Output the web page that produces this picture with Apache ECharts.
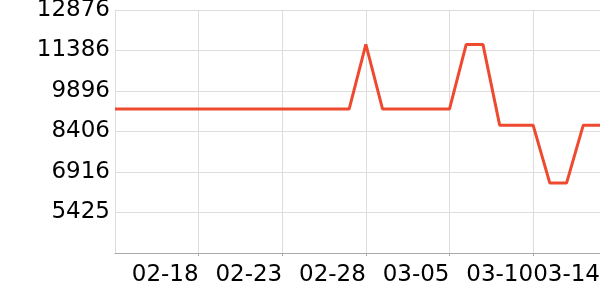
<!DOCTYPE html>
<html>
<head>
<meta charset="utf-8">
<script src="https://cdn.jsdelivr.net/npm/echarts@6/dist/echarts.min.js"></script>
<style>html,body{margin:0;padding:0;background:#fff;overflow:hidden}#c{width:600px;height:300px}</style>
</head>
<body>
<div id="c"></div>
<script>
const categories = ['02-13','02-14','02-15','02-16','02-17','02-18','02-19','02-20','02-21','02-22',
  '02-23','02-24','02-25','02-26','02-27','02-28','03-01','03-02','03-03','03-04',
  '03-05','03-06','03-07','03-08','03-09','03-10','03-11','03-12','03-13','03-14'];
const values = [9229,9229,9229,9229,9229,9229,9229,9229,9229,9229,
  9229,9229,9229,9229,9229,11610,9229,9229,9229,9229,
  9229,11610,11610,8640,8640,8640,6506,6506,8640,8640];
const yTickLabels = ['5425','6916','8406','9896','11386','12876'];
const xLabelIdx = [5,10,15,20,25,29];
const xGridIdx = [5,10,15,20,25];

const yMin = 3935, yMax = 12876;
const yInterval = (yMax - yMin) / 6;

const chart = echarts.init(document.getElementById('c'), null, {renderer:'canvas'});
chart.setOption({
  animation: false,
  grid: {left: 115, right: 0, top: 10, bottom: 47, containLabel: false, outerBoundsMode: 'none'},
  xAxis: {
    type: 'category',
    data: categories,
    boundaryGap: false,
    axisLine: {lineStyle: {color: '#aaaaaa', width: 1}},
    axisTick: {show: true, length: 3, interval: (i) => xGridIdx.includes(i), lineStyle: {color: '#aaaaaa'}},
    axisLabel: {
      interval: (i) => xLabelIdx.includes(i),
      align: 'right',
      fontSize: 23,
      fontFamily: 'DejaVu Sans',
      color: '#000',
      margin: 11
    },
    splitLine: {show: true, interval: (i) => xGridIdx.includes(i), lineStyle: {color: '#dddddd', width: 1}}
  },
  yAxis: {
    type: 'value',
    min: yMin,
    max: yMax,
    interval: yInterval,
    axisLine: {show: true, lineStyle: {color: '#dddddd'}},
    axisTick: {show: false},
    axisLabel: {
      fontSize: 23,
      fontFamily: 'DejaVu Sans',
      color: '#000',
      margin: 5,
      formatter: function (v) {
        if (Math.abs(v - yMin) < 1) return '';
        const k = Math.round((v - yMin) / yInterval) - 1;
        return yTickLabels[k] !== undefined ? yTickLabels[k] : '';
      }
    },
    splitLine: {show: true, lineStyle: {color: '#dddddd', width: 1}}
  },
  series: [{
    type: 'line',
    data: values,
    showSymbol: false,
    symbol: 'none',
    lineStyle: {color: '#ee4a2f', width: 3},
    itemStyle: {color: '#ee4a2f'}
  }]
});
</script>
</body>
</html>
